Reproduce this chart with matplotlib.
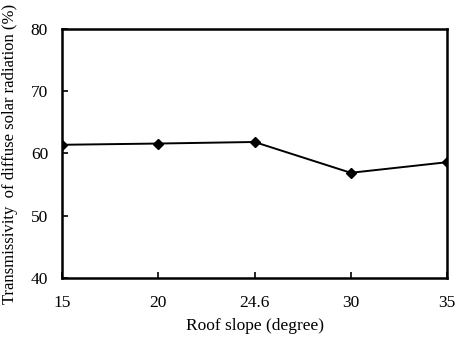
import matplotlib
matplotlib.use('Agg')
import matplotlib.pyplot as plt

slopes = ['15', '20', '24.6', '30', '35']
transmissivity = [61.4, 61.6, 61.85, 56.9, 58.6]

plt.rcParams['font.family'] = 'Liberation Serif'

fig = plt.figure(figsize=(4.58, 3.45), dpi=100)
ax = fig.add_axes([62/458, 1 - 278/345, (447-62)/458, (278-29)/345])

x = list(range(len(slopes)))
ax.plot(x, transmissivity, color='black', linewidth=1.4, marker='D', markersize=5)

ax.set_xlim(0, len(slopes) - 1)
ax.set_ylim(40, 80)
ax.set_xticks(x)
ax.set_xticklabels(slopes)
ax.set_yticks([40, 50, 60, 70, 80])
ax.tick_params(direction='in', labelsize=12.5, length=4, width=1.2)
ax.tick_params(axis='x', pad=12)
ax.tick_params(axis='y', pad=10)
for s in ax.spines.values():
    s.set_linewidth(1.8)

ax.set_xlabel('Roof slope (degree)', fontsize=12.5, labelpad=5)
ax.set_ylabel('Transmissivity  of diffuse solar radiation (%)', fontsize=12, labelpad=9)

fig.savefig('out.png', dpi=100)
